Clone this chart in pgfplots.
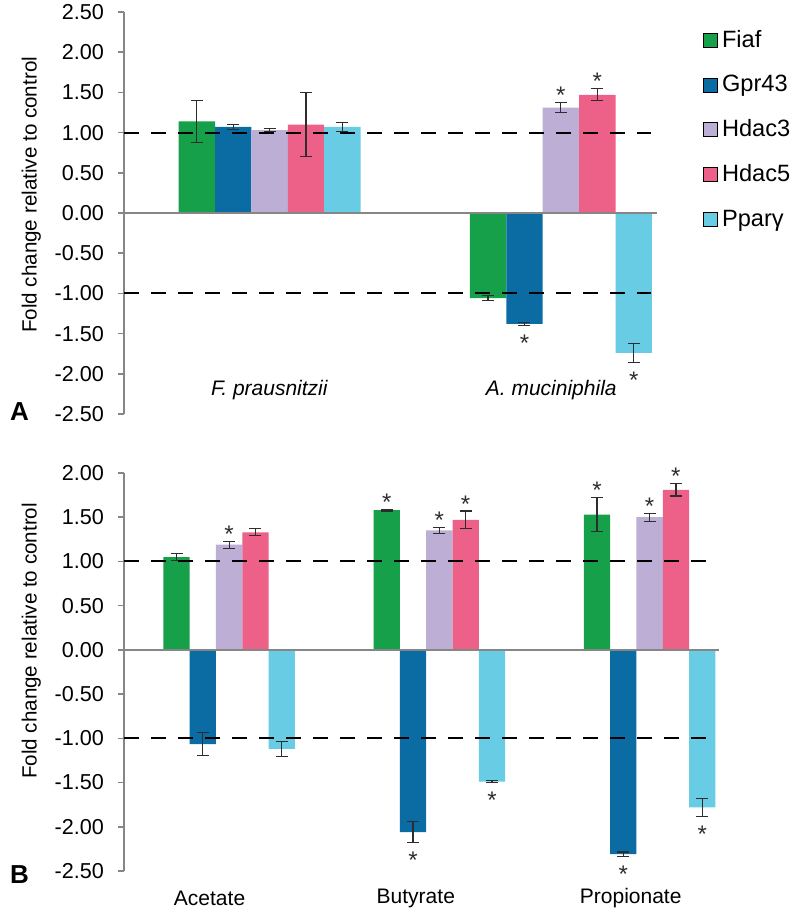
\documentclass[border=0pt]{standalone}
\usepackage{pgfplots}
\pgfplotsset{compat=1.18}
\usepackage{fontspec}
\setmainfont{Liberation Sans}

\definecolor{fiaf}{RGB}{22,160,74}
\definecolor{gpr}{RGB}{10,108,163}
\definecolor{hdacc}{RGB}{189,174,213}
\definecolor{hdacf}{RGB}{237,96,135}
\definecolor{ppar}{RGB}{104,204,228}
\definecolor{axgray}{RGB}{134,134,134}
\definecolor{errc}{RGB}{45,45,45}

\pgfplotsset{
  panel/.style={
    scale only axis,
    axis y line*=left, axis x line*=bottom,
    x axis line style={draw=none},
    y axis line style={axgray, line width=0.8pt},
    xtick style={draw=none},
    ytick style={axgray, line width=0.8pt},
    tick align=outside, major tick length=3pt,
    ytick distance=0.5,
    yticklabel style={/pgf/number format/.cd, fixed, fixed zerofill, precision=2,
      assume math mode=true, /tikz/.cd, font=\fontsize{10.8}{12}\selectfont, xshift=-3.5pt},
    ylabel={Fold change relative to control},
    ylabel style={font=\fontsize{10.3}{12}\selectfont},
    clip=false,
  },
  bars/.style={ybar, bar width=0.125, bar shift=0pt, fill=#1, draw=none, forget plot,
    error bars/y dir=both, error bars/y explicit,
    error bars/error bar style={line width=0.6pt, errc},
    error bars/error mark options={rotate=90, line width=0.6pt, mark size=3pt, errc}},
  star/.style={only marks, mark=text, text mark={*}, text mark as node=true,
    text mark style={font=\fontsize{12}{12}\selectfont, text=errc},
    mark options={yshift=#1}, forget plot},
  zero/.style={axgray, line width=0.8pt, forget plot},
  ref/.style={black, line width=1pt, dash pattern=on 7.5pt off 6pt, forget plot},
}

\begin{document}
\begin{tikzpicture}
% panel A
\begin{axis}[panel, at={(0,0)}, anchor=north west,
  width=266.5pt, height=201pt,
  xmin=-0.5, xmax=1.33, ymin=-2.5, ymax=2.5,
  xtick={0,0.967}, xticklabels={\textit{F. prausnitzii}, \textit{A. muciniphila}},
  xticklabel style={font=\fontsize{10.5}{12}\selectfont, anchor=center, yshift=15pt},
  ylabel style={at={(ticklabel cs:0.545)}},
  legend style={at={(1.086,0.966)}, anchor=north west, draw=none, fill=none,
    inner sep=0pt, font=\fontsize{11.8}{13}\selectfont, row sep=8.5pt,
    legend cell align=left},
  legend image code/.code={\fill[#1] (0pt,-3.5pt) rectangle (7pt,3.5pt);},
]
\addplot[bars=fiaf] coordinates {(-0.25,1.14) +- (0,0.26) (0.75,-1.06) +- (0,0.03)};
\addplot[bars=gpr] coordinates {(-0.125,1.07) +- (0,0.03) (0.875,-1.38) +- (0,0.015)};
\addplot[bars=hdacc] coordinates {(0,1.03) +- (0,0.02) (1,1.31) +- (0,0.06)};
\addplot[bars=hdacf] coordinates {(0.125,1.10) +- (0,0.40) (1.125,1.47) +- (0,0.075)};
\addplot[bars=ppar] coordinates {(0.25,1.07) +- (0,0.06) (1.25,-1.74) +- (0,0.12)};
\addplot[zero] coordinates {(-0.5,0) (1.33,0)};
\addplot[ref] coordinates {(-0.5,1) (1.31,1)};
\addplot[ref] coordinates {(-0.5,-1) (1.31,-1)};
\addplot[star=3.6pt] coordinates {(1,1.37) (1.125,1.545)};
\addplot[star=-8.8pt] coordinates {(0.875,-1.395) (1.25,-1.86)};
\addlegendimage{fill=fiaf}\addlegendentry{Fiaf}
\addlegendimage{fill=gpr}\addlegendentry{Gpr43}
\addlegendimage{fill=hdacc}\addlegendentry{Hdac3}
\addlegendimage{fill=hdacf}\addlegendentry{Hdac5}
\addlegendimage{fill=ppar}\addlegendentry{Pparγ}
\end{axis}
\node[anchor=base west, font=\bfseries\fontsize{13}{13}\selectfont] at (-60.5pt,-204pt) {A};

% panel B
\begin{axis}[panel, at={(0,-230.5pt)}, anchor=north west,
  width=297.5pt, height=199pt,
  xmin=-0.5, xmax=2.33, ymin=-2.5, ymax=2,
  xtick={-0.093,0.888,1.91}, xticklabels={Acetate, Butyrate, Propionate},
  xticklabel style={font=\fontsize{10.5}{12}\selectfont, anchor=center, yshift=-10.5pt},
  ylabel style={at={(ticklabel cs:0.578)}},
]
\addplot[bars=fiaf] coordinates {(-0.25,1.05) +- (0,0.04) (0.75,1.58) +- (0,0.01) (1.75,1.53) +- (0,0.19)};
\addplot[bars=gpr] coordinates {(-0.125,-1.065) +- (0,0.13) (0.875,-2.06) +- (0,0.12) (1.875,-2.31) +- (0,0.025)};
\addplot[bars=hdacc] coordinates {(0,1.19) +- (0,0.04) (1,1.35) +- (0,0.035) (2,1.50) +- (0,0.045)};
\addplot[bars=hdacf] coordinates {(0.125,1.33) +- (0,0.04) (1.125,1.47) +- (0,0.10) (2.125,1.81) +- (0,0.07)};
\addplot[bars=ppar] coordinates {(0.25,-1.12) +- (0,0.085) (1.25,-1.49) +- (0,0.01) (2.25,-1.78) +- (0,0.10)};
\addplot[zero] coordinates {(-0.5,0) (2.33,0)};
\addplot[ref] coordinates {(-0.5,1) (2.28,1)};
\addplot[ref] coordinates {(-0.5,-1) (2.28,-1)};
\addplot[star=3.6pt] coordinates {(0,1.23) (0.75,1.59) (1,1.385) (1.125,1.57) (1.75,1.72) (2,1.545) (2.125,1.88)};
\addplot[star=-8.8pt] coordinates {(0.875,-2.18) (1.25,-1.50) (1.875,-2.335) (2.25,-1.88)};
\end{axis}
\node[anchor=base west, font=\bfseries\fontsize{13}{13}\selectfont] at (-60.5pt,-435.5pt) {B};

\pgfresetboundingbox
\useasboundingbox (-62pt,6pt) rectangle (333.5pt,-448pt);
\end{tikzpicture}
\end{document}
